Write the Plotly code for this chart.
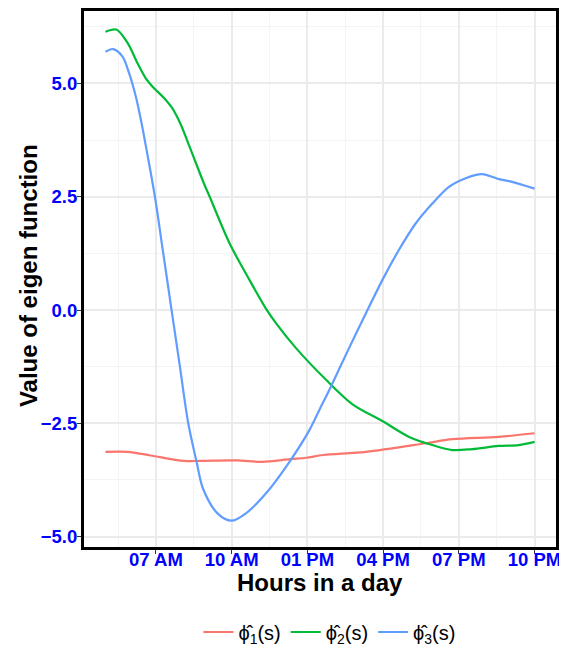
import plotly.graph_objects as go

RED = "#F8766D"
GREEN = "#00BA38"
BLUE = "#619CFF"
GRID_MAJOR = "#EBEBEB"
GRID_MINOR = "#F4F4F4"
TICK_BLUE = "#0000FF"
FONT = "Liberation Sans, Arial, sans-serif"

# hours of the day (decimal) and eigen function values
phi1_hours = [5.0, 5.87, 6.79, 8.11, 8.74, 10.21, 11.2, 12.32, 12.95, 13.63,
              15.32, 17.69, 18.74, 20.58, 22.0]
phi1_vals = [-3.13, -3.13, -3.21, -3.33, -3.33, -3.32, -3.35, -3.29, -3.26, -3.2,
             -3.13, -2.94, -2.85, -2.8, -2.72]

phi2_hours = [5.0, 5.43, 5.87, 6.26, 6.59, 6.92, 7.32, 7.64, 7.98, 8.37, 8.89,
              9.13, 9.92, 10.71, 11.37, 11.77, 12.55, 13.74, 14.79, 15.97, 17.03,
              17.95, 18.74, 19.53, 20.58, 21.37, 22.0]
phi2_vals = [6.14, 6.19, 5.9, 5.46, 5.12, 4.9, 4.68, 4.46, 4.1, 3.55, 2.81,
             2.5, 1.47, 0.66, 0.02, -0.3, -0.84, -1.54, -2.08, -2.45, -2.8,
             -2.98, -3.09, -3.07, -3.0, -2.98, -2.91]

phi3_hours = [5.0, 5.3, 5.67, 5.93, 6.2, 6.4, 6.63, 6.96, 7.29, 7.62, 7.95, 8.28,
              8.61, 8.87, 9.46, 9.99, 10.58, 11.37, 12.29, 13.08, 13.47, 13.94,
              14.66, 15.32, 15.97, 16.63, 17.29, 17.95, 18.61, 19.27, 19.92,
              20.58, 21.11, 22.0]
phi3_vals = [5.7, 5.76, 5.6, 5.24, 4.72, 4.21, 3.53, 2.5, 1.25, 0.0, -1.25, -2.5,
             -3.35, -3.95, -4.5, -4.65, -4.48, -4.04, -3.35, -2.65, -2.21, -1.68,
             -0.83, -0.07, 0.66, 1.33, 1.91, 2.35, 2.72, 2.91, 3.0,
             2.89, 2.83, 2.68]

x_ticks = [7, 10, 13, 16, 19, 22]
x_labels = ["07 AM", "10 AM", "01 PM", "04 PM", "07 PM", "10 PM"]
x_minor = [5.5, 8.5, 11.5, 14.5, 17.5, 20.5]
y_ticks = [-5, -2.5, 0, 2.5, 5]
y_labels = ["\u22125.0", "\u22122.5", "0.0", "2.5", "5.0"]
y_minor = [-3.75, -1.25, 1.25, 3.75, 6.25]

series = [
    ("\u03d5\u0302<sub>1</sub>(s)", phi1_hours, phi1_vals, RED),
    ("\u03d5\u0302<sub>2</sub>(s)", phi2_hours, phi2_vals, GREEN),
    ("\u03d5\u0302<sub>3</sub>(s)", phi3_hours, phi3_vals, BLUE),
]

fig = go.Figure()
for name, xs, ys, color in series:
    fig.add_trace(go.Scatter(
        x=xs, y=ys, name=name, mode="lines",
        line=dict(color=color, width=2.2, shape="spline", smoothing=0.9),
    ))

# the page body adds an 8px offset, so the figure is a bit smaller than the window
fig.update_layout(
    width=559,
    height=640,
    margin=dict(l=76, r=11, t=3, b=101, autoexpand=False),
    paper_bgcolor="white",
    plot_bgcolor="white",
    font=dict(family=FONT, size=17, color="black"),
    showlegend=True,
    legend=dict(
        orientation="h", x=0.52, xanchor="center", y=-0.1586, yanchor="middle",
        font=dict(size=20), itemwidth=30,
    ),
    annotations=[
        dict(text="<b>Hours in a day</b>", xref="paper", yref="paper",
             x=0.5, y=-0.0655, xanchor="center", yanchor="middle",
             showarrow=False, font=dict(size=24)),
        dict(text="<b>Value of eigen function</b>", xref="paper", yref="paper",
             x=-0.119, y=0.507, xanchor="center", yanchor="middle", textangle=-90,
             showarrow=False, font=dict(size=24)),
    ],
)
fig.update_xaxes(
    range=[4.15, 22.85], automargin=False,
    tickvals=x_ticks, ticktext=x_labels,
    tickfont=dict(color=TICK_BLUE, size=18.5, weight="bold"),
    ticks="outside", ticklen=4, tickcolor="#333333", ticklabelstandoff=-10,
    showgrid=True, gridcolor=GRID_MAJOR, gridwidth=1.5,
    minor=dict(tickvals=x_minor, showgrid=True, gridcolor=GRID_MINOR, gridwidth=1, ticks=""),
    zeroline=False,
    showline=True, linecolor="black", linewidth=3, mirror=True,
)
fig.update_yaxes(
    range=[-5.23, 6.60], automargin=False,
    tickvals=y_ticks, ticktext=y_labels,
    tickfont=dict(color=TICK_BLUE, size=18.5, weight="bold"),
    ticks="outside", ticklen=4, tickcolor="#333333", ticklabelstandoff=-4,
    showgrid=True, gridcolor=GRID_MAJOR, gridwidth=1.5,
    minor=dict(tickvals=y_minor, showgrid=True, gridcolor=GRID_MINOR, gridwidth=1, ticks=""),
    zeroline=False,
    showline=True, linecolor="black", linewidth=3, mirror=True,
)

fig.write_html("out.html")
